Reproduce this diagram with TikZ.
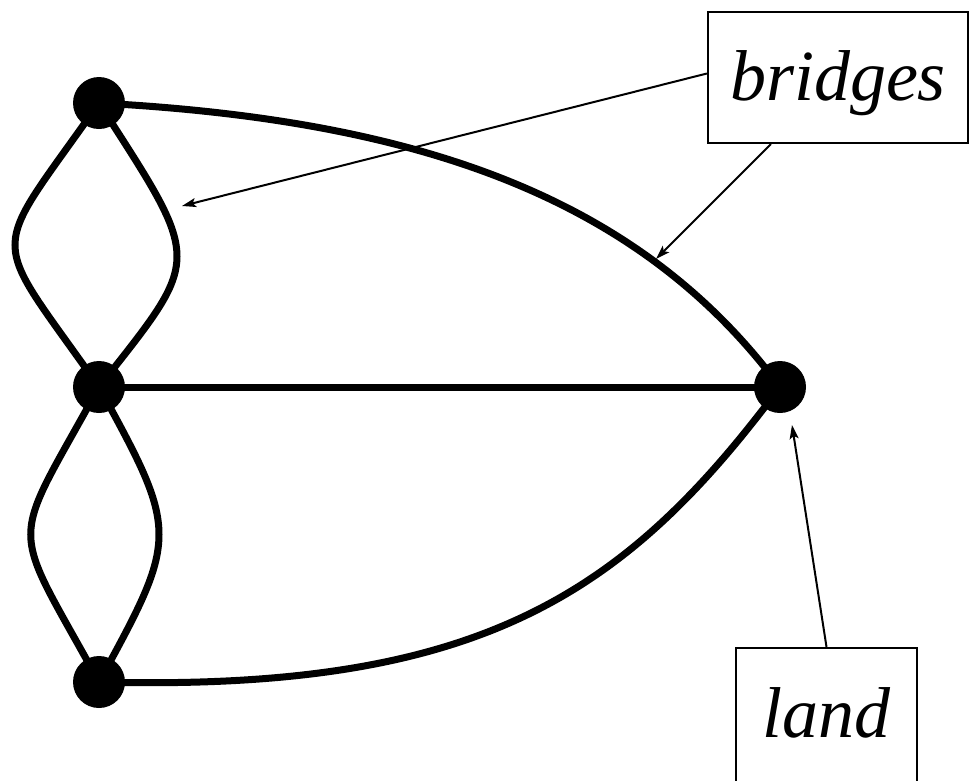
\documentclass[tikz,border=0pt]{standalone}
\usepackage{fontspec}
\setmainfont{Liberation Serif}
\usetikzlibrary{arrows.meta,backgrounds}

\tikzset{
  land/.style={circle, fill=black, draw=none, minimum size=52pt, inner sep=0pt},
  bridge/.style={line width=7pt, line cap=round},
  label box/.style={draw, line width=2.2pt, inner xsep=0pt,
    font=\fontsize{72}{80}\selectfont\itshape},
  pointer/.style={line width=2pt, -{Stealth[length=14pt,width=9pt,inset=3pt]}}
}

\begin{document}
\begin{tikzpicture}[x=1pt,y=-1pt]
  \useasboundingbox (0,0) rectangle (970,780);

  % land masses
  \node[land] (A) at (99,103) {};
  \node[land] (B) at (99,387) {};
  \node[land] (C) at (99,682) {};
  \node[land] (D) at (780,387) {};

  % bridges between the land masses
  \begin{pgfonlayer}{background}
    \draw[bridge] (A.center) .. controls (-13,263) and (-13,227) .. (B.center);
    \draw[bridge] (A.center) .. controls (203,265) and (203,255) .. (B.center);
    \draw[bridge] (B.center) .. controls (8,553) and (8,516) .. (C.center);
    \draw[bridge] (B.center) .. controls (179,533) and (179,536) .. (C.center);
    \draw[bridge] (B.center) -- (D.center);
    \draw[bridge] (A.center) .. controls (420,120) and (640,198) .. (D.center);
    \draw[bridge] (C.center) .. controls (480,692) and (625,595) .. (D.center);
  \end{pgfonlayer}

  % labels
  \node[label box, minimum width=260pt, text height=68pt, text depth=23pt,
        inner ysep=20pt] (bridges) at (838,77.5) {bridges};
  \node[label box, minimum width=181pt, text height=49pt, text depth=30pt,
        inner ysep=40pt] (landlbl) at (826.5,727.5) {land};

  % pointer tips
  \coordinate (tipLobe) at (182,206);
  \coordinate (tipArc) at (656,259);
  \coordinate (tipLand) at (792,425);

  \draw[pointer] ([yshift=4pt]bridges.west) -- (tipLobe);
  \draw[pointer] ([xshift=64pt]bridges.south west) -- (tipArc);
  \draw[pointer] (landlbl.north) -- (tipLand);
\end{tikzpicture}
\end{document}
